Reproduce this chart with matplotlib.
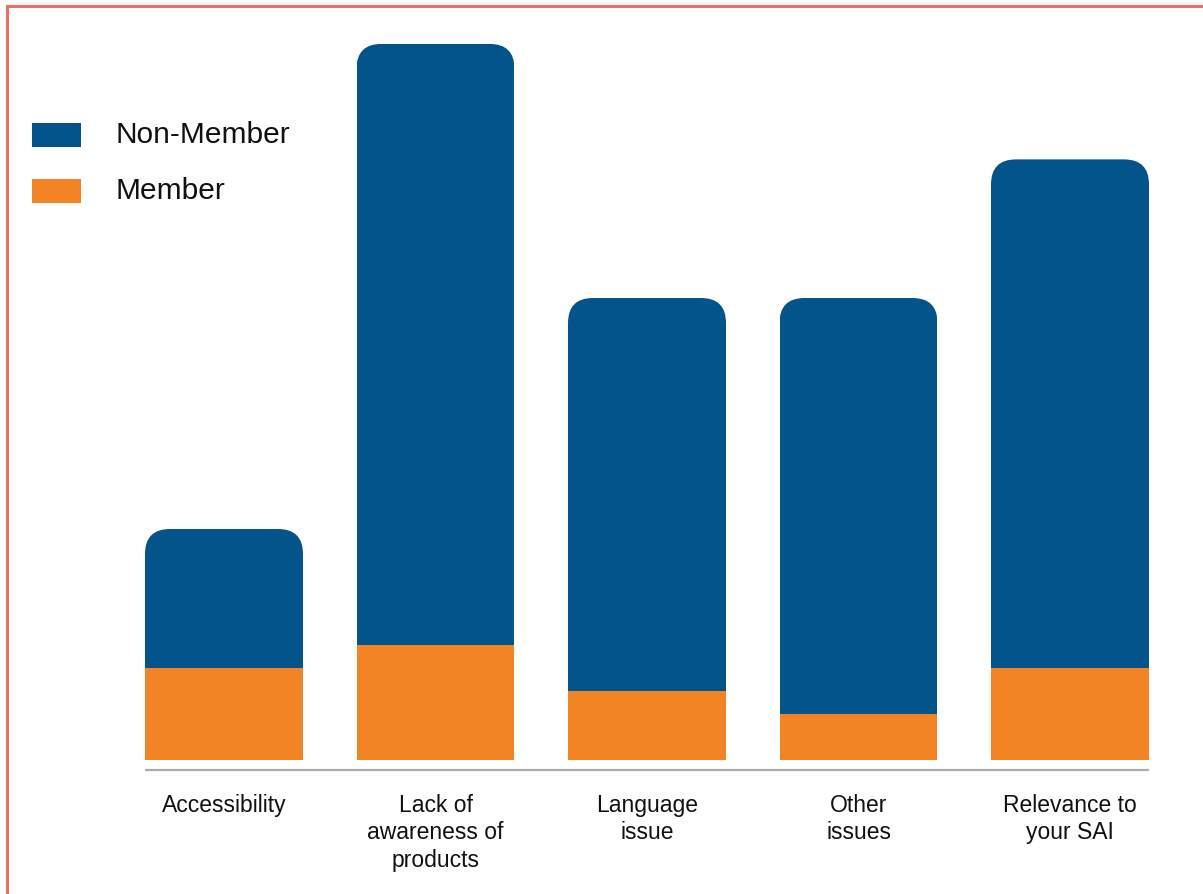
import matplotlib
matplotlib.use("Agg")
import matplotlib.pyplot as plt
from matplotlib.patches import FancyBboxPatch, Rectangle
from matplotlib.lines import Line2D

categories = ["Accessibility", "Lack of\nawareness of\nproducts", "Language\nissue",
              "Other\nissues", "Relevance to\nyour SAI"]
member = [4, 5, 3, 2, 4]
non_member = [6, 26, 17, 18, 22]

BLUE = "#02548B"
ORANGE = "#F38425"
BORDER = "#EE6F6A"

plt.rcParams["font.family"] = ["Liberation Sans", "DejaVu Sans"]

W, H = 1203, 895
fig = plt.figure(figsize=(W / 100, H / 100), dpi=100)

# axes placed so one x unit = 211.5 px and one y unit = 23.1 px
xlo, xhi = -0.6, 4.6
ylo, yhi = -1.0, 32.5
px_x, px_y = 211.5, 23.1
left = 224 - (0 - xlo) * px_x
bottom = (H - 761) + ylo * px_y
ax = fig.add_axes([left / W, bottom / H, (xhi - xlo) * px_x / W, (yhi - ylo) * px_y / H])
ax.set_xlim(xlo, xhi)
ax.set_ylim(ylo, yhi)
ax.axis("off")

width = 0.747
x = list(range(len(categories)))
aspect = (1 / px_y) / (1 / px_x)
radius = 25 / px_x

for i in x:
    total = member[i] + non_member[i]
    clip = FancyBboxPatch((i - width / 2, -3), width, total + 3,
                          boxstyle=f"round,pad=0,rounding_size={radius}",
                          mutation_aspect=aspect, transform=ax.transData,
                          facecolor="none", edgecolor="none")
    ax.add_patch(clip)
    b1 = ax.bar(i, member[i], width=width, color=ORANGE, linewidth=0)
    b2 = ax.bar(i, non_member[i], bottom=member[i], width=width, color=BLUE, linewidth=0)
    for r in list(b1) + list(b2):
        r.set_clip_path(clip)
    ax.text(i, -1.42, categories[i], ha="center", va="top", fontsize=16.5,
            color="#111111", linespacing=1.26)

# baseline rule under the bars
ax.plot([-width / 2, 4 + width / 2], [-0.45, -0.45], color="#ababab", lw=1.6,
        solid_capstyle="butt", clip_on=False)

# legend drawn by hand at the upper left
for ytop, color, label in [(124, BLUE, "Non-Member"), (180, ORANGE, "Member")]:
    fig.patches.append(Rectangle((32 / W, 1 - (ytop + 24) / H), 49 / W, 24 / H,
                                 transform=fig.transFigure, facecolor=color,
                                 edgecolor="none"))
    fig.text(116 / W, 1 - (ytop + 11) / H, label, ha="left", va="center",
             fontsize=21.5, color="#111111")

# frame lines on top and left edges
fig.lines.append(Line2D([7 / W, 1], [1 - 7 / H, 1 - 7 / H], transform=fig.transFigure,
                        color=BORDER, lw=2.2))
fig.lines.append(Line2D([7 / W, 7 / W], [0, 1 - 7 / H], transform=fig.transFigure,
                        color=BORDER, lw=2.2))

fig.savefig("out.png", dpi=100)
